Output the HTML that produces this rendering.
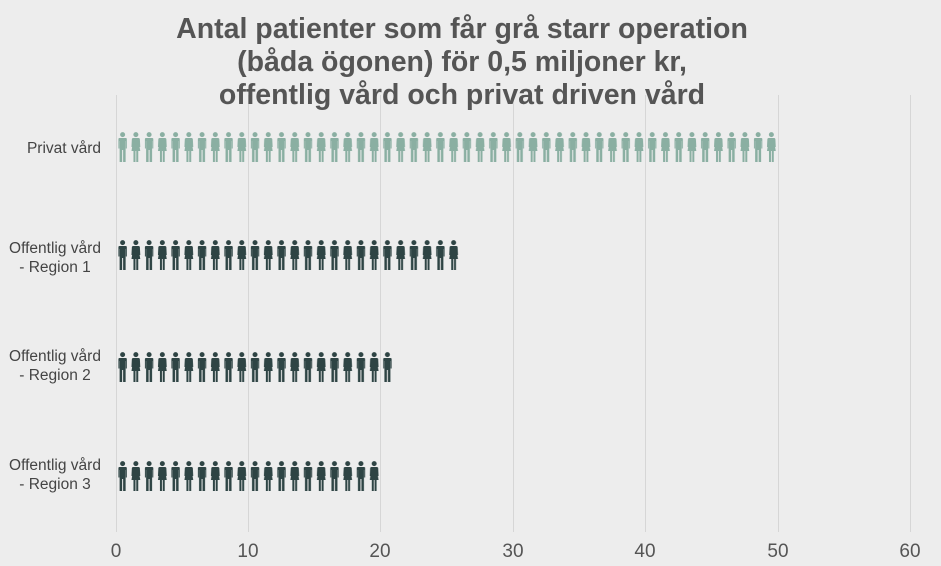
<!DOCTYPE html>
<html><head><meta charset="utf-8"><style>
html,body{margin:0;padding:0;background:#ededed;}
svg{display:block;font-family:"Liberation Sans",sans-serif;}
</style></head><body>
<svg width="941" height="566" viewBox="0 0 941 566">
<defs>
<g id="man">
<circle cx="0" cy="2.6" r="2.5"/>
<path d="M-3.2,6 H3.2 Q4.2,6 4.2,7 V16.5 H3.2 V9 H3 V30 H0.5 V18 H-0.5 V30 H-3 V9 H-3.2 V16.5 H-4.2 V7 Q-4.2,6 -3.2,6Z"/>
</g>
<g id="woman">
<circle cx="0" cy="2.6" r="2.5"/>
<path d="M-2.8,6 H2.8 Q3.7,6 4,7 L4.4,15 H3.5 L2.8,9.5 L4.4,19 H2.4 V30 H0.4 V19 H-0.4 V30 H-2.4 V19 H-4.4 L-2.8,9.5 L-3.5,15 H-4.4 L-4,7 Q-3.7,6 -2.8,6Z"/>
</g>
<pattern id="pl" x="116" y="132" width="26.48" height="30" patternUnits="userSpaceOnUse">
<g fill="#8aafa2"><use href="#man" x="6.62"/><use href="#woman" x="19.86"/></g></pattern>
<pattern id="p2" x="116" y="240" width="26.48" height="30" patternUnits="userSpaceOnUse">
<g fill="#2e4444"><use href="#man" x="6.62"/><use href="#woman" x="19.86"/></g></pattern>
<pattern id="p3" x="116" y="352" width="26.48" height="30" patternUnits="userSpaceOnUse">
<g fill="#2e4444"><use href="#man" x="6.62"/><use href="#woman" x="19.86"/></g></pattern>
<pattern id="p4" x="116" y="461" width="26.48" height="30" patternUnits="userSpaceOnUse">
<g fill="#2e4444"><use href="#man" x="6.62"/><use href="#woman" x="19.86"/></g></pattern>
</defs>
<rect width="941" height="566" fill="#ededed"/>
<g stroke="#d6d6d6" stroke-width="1">
<line x1="116.5" y1="95" x2="116.5" y2="532"/>
<line x1="248.5" y1="95" x2="248.5" y2="532"/>
<line x1="380.5" y1="95" x2="380.5" y2="532"/>
<line x1="513.5" y1="95" x2="513.5" y2="532"/>
<line x1="645.5" y1="95" x2="645.5" y2="532"/>
<line x1="778.5" y1="95" x2="778.5" y2="532"/>
<line x1="910.5" y1="95" x2="910.5" y2="532"/>
</g>
<rect x="116" y="132" width="662" height="30" fill="url(#pl)"/>
<rect x="116" y="240" width="344.2" height="30" fill="url(#p2)"/>
<rect x="116" y="352" width="278" height="30" fill="url(#p3)"/>
<rect x="116" y="461" width="264.8" height="30" fill="url(#p4)"/>
<g fill="#555" font-weight="bold" font-size="28.5" text-anchor="middle">
<text x="462" y="38">Antal patienter som får grå starr operation</text>
<text x="462" y="71">(båda ögonen) för 0,5 miljoner kr,</text>
<text x="462" y="104">offentlig vård och privat driven vård</text>
</g>
<g fill="#444" font-size="15.5" text-anchor="middle">
<text x="64" y="153">Privat vård</text>
<text x="55" y="253">Offentlig vård</text><text x="55" y="272">- Region 1</text>
<text x="55" y="361">Offentlig vård</text><text x="55" y="380">- Region 2</text>
<text x="55" y="470">Offentlig vård</text><text x="55" y="489">- Region 3</text>
</g>
<g fill="#555" font-size="19" text-anchor="middle">
<text x="116" y="557">0</text><text x="248" y="557">10</text><text x="380" y="557">20</text>
<text x="513" y="557">30</text><text x="645" y="557">40</text><text x="778" y="557">50</text>
<text x="910" y="557">60</text>
</g>
</svg>
</body></html>
